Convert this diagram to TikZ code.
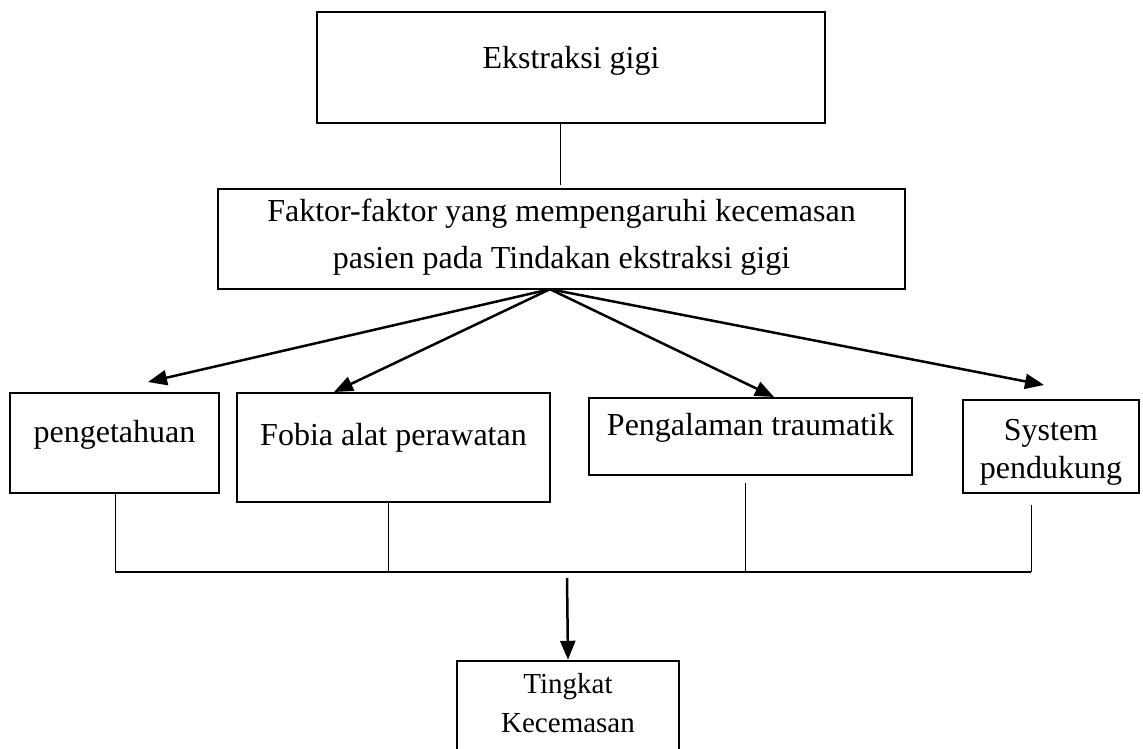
\documentclass[tikz,border=0pt]{standalone}
\usepackage{fontspec}
\setmainfont{Liberation Serif}
\usetikzlibrary{arrows.meta,calc}
\begin{document}
\begin{tikzpicture}[x=1pt,y=-1pt,
  box/.style={draw, line width=2.4pt, inner sep=0pt},
  txt/.style={font=\fontsize{32}{38}\selectfont, anchor=base, inner sep=0pt},
  smalltxt/.style={font=\fontsize{29}{35}\selectfont, anchor=base, inner sep=0pt},
  arr/.style={line width=2.5pt, -{Triangle[length=19pt,width=15pt]}},
  thinline/.style={line width=1pt},
  midline/.style={line width=1.5pt}]
\clip (0,0) rectangle (1143,749);
\fill[white] (0,0) rectangle (1143,749);
% boxes
\node[box, minimum width=508pt, minimum height=111pt] (A) at (571,67.5) {};
\node[box, minimum width=687pt, minimum height=100pt] (B) at (561.5,239) {};
\node[box, minimum width=209pt, minimum height=100pt] (C) at (114.5,443) {};
\node[box, minimum width=313pt, minimum height=109pt] (D) at (393.5,447.5) {};
\node[box, minimum width=323pt, minimum height=77pt] (E) at (750.5,436.5) {};
\node[box, minimum width=176pt, minimum height=93pt] (F) at (1051,446.5) {};
\node[box, minimum width=222pt, minimum height=119pt] (G) at (568,720.5) {};
% texts
\node[txt] (At) at (571,69) {Ekstraksi gigi};
\node[txt] (Bt1) at (561.5,221) {Faktor-faktor yang mempengaruhi kecemasan};
\node[txt] (Bt2) at (561.5,268) {pasien pada Tindakan ekstraksi gigi};
\node[txt] (Ct) at (114.5,442) {pengetahuan};
\node[txt] (Dt) at (393.5,445) {Fobia alat perawatan};
\node[txt] (Et) at (750.5,435) {Pengalaman traumatik};
\node[txt] (Ft1) at (1051,440) {System};
\node[txt] (Ft2) at (1051,478) {pendukung};
\node[smalltxt] (Gt1) at (568,693) {Tingkat};
\node[smalltxt] (Gt2) at (568,732) {Kecemasan};
% top connector
\draw[thinline] ($(A.south)+(-11,0)$) -- ($(B.north)+(-1.5,-3)$);
% arrows from hub
\coordinate (hub) at ($(B.south)+(-11.5,-1)$);
\coordinate (t1) at (148,382);
\coordinate (t2) at (334,392);
\coordinate (t3) at (774,397);
\coordinate (t4) at (1044,385);
\draw[arr] (hub) -- (t1);
\draw[arr] (hub) -- (t2);
\draw[arr] (hub) -- (t3);
\draw[arr] (hub) -- (t4);
% joining lines
\coordinate (hL) at (115,572);
\coordinate (hR) at (1031,572);
\draw[midline] (hL) -- (hR);
\draw[thinline] (C.south -| hL) -- (hL);
\coordinate (d1) at ($(D.south)+(-5.5,0)$);
\draw[thinline] (d1) -- (d1 |- hL);
\coordinate (e1) at ($(E.south)+(-5.5,7)$);
\draw[thinline] (e1) -- (e1 |- hL);
\coordinate (f1) at ($(F.south -| hR)+(0,11)$);
\draw[thinline] (f1) -- (hR);
% bottom arrow
\coordinate (g0) at ($(hL -| G.north)+(-1,6)$);
\draw[arr] (g0) -- (G.north);
\end{tikzpicture}
\end{document}
